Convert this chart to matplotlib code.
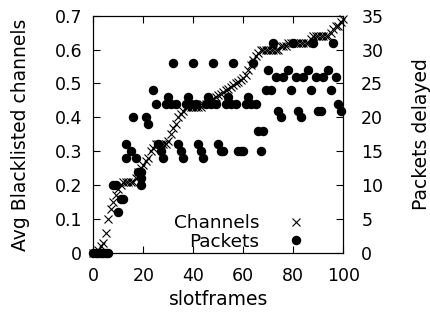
import numpy as np
import matplotlib
matplotlib.use("Agg")
import matplotlib.pyplot as plt

# avg blacklisted channels per slotframe (0..100)
slotframes = list(range(101))
channels = [
    0.0, 0.0, 0.01, 0.02, 0.03, 0.06, 0.1, 0.13, 0.15, 0.17,
    0.19, 0.2, 0.21, 0.21, 0.21, 0.21, 0.21, 0.22, 0.24, 0.25,
    0.26, 0.27, 0.28, 0.3, 0.31, 0.32, 0.32, 0.32, 0.32, 0.32,
    0.33, 0.35, 0.37, 0.38, 0.4, 0.41, 0.42, 0.43, 0.43, 0.43,
    0.43, 0.43, 0.43, 0.43, 0.44, 0.44, 0.445, 0.45, 0.455, 0.46,
    0.465, 0.47, 0.475, 0.48, 0.485, 0.49, 0.495, 0.5, 0.505, 0.51,
    0.515, 0.525, 0.54, 0.555, 0.57, 0.58, 0.59, 0.6, 0.6, 0.6,
    0.6, 0.6, 0.6, 0.6, 0.6, 0.61, 0.61, 0.61, 0.62, 0.62,
    0.62, 0.62, 0.62, 0.62, 0.62, 0.62, 0.62, 0.63, 0.64, 0.64,
    0.64, 0.64, 0.64, 0.64, 0.64, 0.65, 0.66, 0.67, 0.67, 0.68,
    0.69,
]

# packets delayed
pkt_x = [0, 1, 2, 3, 4, 5, 6,
         8, 9, 10, 11, 12, 13, 13, 15, 16, 17, 18, 19, 19, 19,
         21, 22, 24, 25,
         26, 27, 28, 29, 30, 31, 32, 33,
         34, 35, 36, 37, 38, 39, 40, 41,
         42, 43, 44, 45, 46, 47, 48, 49,
         50, 51, 52, 53, 54, 55, 56, 57,
         58, 59, 60, 61, 62, 63, 64, 65,
         66, 67, 68,
         69, 70, 71, 72, 73, 74, 75, 76,
         78, 79, 80, 81, 82, 83, 84,
         86, 87, 88, 89, 90, 91, 92,
         94, 95, 96, 97, 98, 99]
pkt_y = [0, 0, 0, 0, 0, 0, 0,
         10, 10, 6, 8, 8, 16, 14, 15, 20, 14, 12, 12, 11, 10,
         20, 19, 24, 22,
         16, 15, 14, 22, 23, 22, 28, 22,
         16, 15, 14, 22, 23, 22, 28, 22,
         16, 15, 14, 22, 23, 22, 28, 22,
         16, 15, 15, 22, 23, 22, 28, 22,
         15, 15, 15, 22, 23, 22, 28, 22,
         18, 15, 18,
         24, 27, 24, 31, 26, 21, 20, 26,
         27, 24, 31, 26, 21, 20, 26,
         27, 24, 31, 26, 21, 21, 26,
         27, 24, 31, 26, 22, 21]

plt.rcParams['font.family'] = 'DejaVu Sans'
plt.rcParams['font.size'] = 12.5

fig = plt.figure(figsize=(4.3, 3.12), dpi=100)
ax = fig.add_axes([0.217, 0.189, 0.581, 0.761])
ax2 = ax.twinx()

l1, = ax.plot(slotframes, channels, 'x', color='black', markersize=5.5,
              markeredgewidth=0.8, label='Channels', clip_on=False)
l2, = ax2.plot(pkt_x, pkt_y, 'o', color='black', markersize=5.8,
               label='Packets', clip_on=False)

ax.set_xlim(0, 100)
ax.set_ylim(0, 0.7)
ax2.set_ylim(0, 35)
ax.set_xticks([0, 20, 40, 60, 80, 100])
ax.set_yticks(np.arange(0, 0.71, 0.1))
ax.set_yticklabels(['0', '0.1', '0.2', '0.3', '0.4', '0.5', '0.6', '0.7'])
ax2.set_yticks(range(0, 36, 5))

ax.tick_params(axis='x', direction='in', top=True, length=5, width=0.8, pad=10)
ax.tick_params(axis='y', direction='in', right=False, length=5, width=0.8, pad=8)
ax2.tick_params(direction='in', length=5, width=0.8, pad=13)

ax.set_xlabel('slotframes', labelpad=4, fontsize=13.5)
ax.set_ylabel('Avg Blacklisted channels', labelpad=18, fontsize=13.5)
ax2.set_ylabel('Packets delayed', labelpad=21, fontsize=13.5)

ax.legend([l1, l2], ['Channels', 'Packets'], loc='lower right',
          bbox_to_anchor=(0.9, -0.045), frameon=False, markerfirst=False,
          handlelength=1.0, handletextpad=1.5, labelspacing=0.02,
          borderpad=0.2, fontsize=13.3)

plt.savefig('out.png', dpi=100)
